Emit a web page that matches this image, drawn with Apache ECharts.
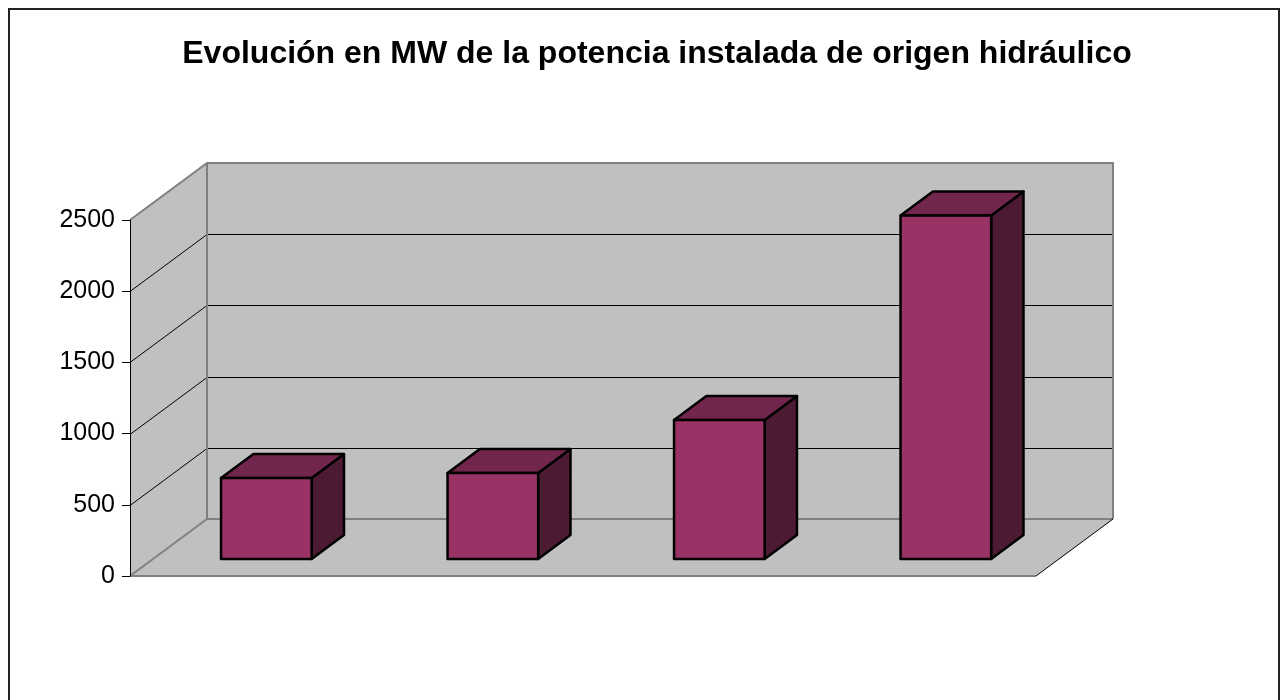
<!DOCTYPE html>
<html>
<head>
<meta charset="utf-8">
<script src="https://cdn.jsdelivr.net/npm/echarts@6/dist/echarts.min.js"></script>
<style>
  html, body { margin: 0; padding: 0; background: #fff; }
  #chart { width: 1280px; height: 700px; }
</style>
</head>
<body>
<div id="chart"></div>
<script>
// datos
var categories = ['1', '2', '3', '4'];
var potencia = [568, 604, 976, 2412];
var yTicks = [0, 500, 1000, 1500, 2000, 2500];

// profundidad de la vista 3D (px)
var DX = 77, DY = -57;
var BAR_FRONT = 0.3, BAR_BACK = 0.72;

function renderWalls(params, api) {
  var cs = params.coordSys;
  var x0 = cs.x, x1 = cs.x + cs.width;
  var yb = api.coord([0, 0])[1];
  var yt = api.coord([0, yTicks[yTicks.length - 1]])[1];
  var gray = '#808080';
  var c = [];
  var wall = { fill: '#c0c0c0', stroke: null };
  c.push({ type: 'polygon', shape: { points: [[x0, yb], [x1, yb], [x1 + DX, yb + DY], [x0 + DX, yb + DY]] }, style: wall });
  c.push({ type: 'polygon', shape: { points: [[x0, yb], [x0 + DX, yb + DY], [x0 + DX, yt + DY], [x0, yt]] }, style: wall });
  c.push({ type: 'polygon', shape: { points: [[x0 + DX, yb + DY], [x1 + DX, yb + DY], [x1 + DX, yt + DY], [x0 + DX, yt + DY]] }, style: wall });
  yTicks.forEach(function (v, i) {
    if (i === 0 || i === yTicks.length - 1) return;
    var y = Math.round(api.coord([0, v])[1]) + 0.5;
    c.push({ type: 'polyline', shape: { points: [[x0, y], [x0 + DX, y + DY], [x1 + DX, y + DY]] },
      style: { stroke: '#000', lineWidth: 1, fill: null } });
  });
  function edge(pts, color, w) {
    c.push({ type: 'polyline', shape: { points: pts }, style: { stroke: color, lineWidth: w, fill: null } });
  }
  edge([[x0, yt], [x0 + DX, yt + DY], [x1 + DX, yt + DY], [x1 + DX, yb + DY]], gray, 2);
  edge([[x0 + DX, yt + DY], [x0 + DX, yb + DY], [x1 + DX, yb + DY]], gray, 2);
  edge([[x0, yb], [x0 + DX, yb + DY]], gray, 2);
  edge([[x0, yb], [x1, yb]], gray, 2);
  edge([[x1, yb], [x1 + DX, yb + DY]], '#000', 1);
  return { type: 'group', children: c };
}

function renderBar(params, api) {
  var base = api.coord([api.value(0), 0]);
  var top = api.coord([api.value(0), api.value(1)]);
  var w = api.size([1, 0])[0] * 0.4;
  var xl = base[0] - w / 2 + DX * BAR_FRONT, xr = xl + w;
  var yb = base[1] + DY * BAR_FRONT, yt = top[1] + DY * BAR_FRONT;
  var ddx = DX * (BAR_BACK - BAR_FRONT), ddy = DY * (BAR_BACK - BAR_FRONT);
  var line = { stroke: '#000', lineWidth: 2.5, lineJoin: 'round' };
  return {
    type: 'group',
    children: [
      { type: 'polygon', shape: { points: [[xr, yb], [xr + ddx, yb + ddy], [xr + ddx, yt + ddy], [xr, yt]] },
        style: Object.assign({ fill: '#4c1a33' }, line) },
      { type: 'polygon', shape: { points: [[xl, yt], [xr, yt], [xr + ddx, yt + ddy], [xl + ddx, yt + ddy]] },
        style: Object.assign({ fill: '#73264d' }, line) },
      { type: 'rect', shape: { x: xl, y: yt, width: w, height: yb - yt },
        style: Object.assign({ fill: '#993366' }, line) }
    ]
  };
}

var chart = echarts.init(document.getElementById('chart'));
chart.setOption({
  animation: false,
  backgroundColor: '#fff',
  title: {
    text: 'Evolución en MW de la potencia instalada de origen hidráulico',
    left: 652,
    textAlign: 'center',
    top: 33,
    textStyle: { fontFamily: 'Arial, "Liberation Sans", sans-serif', fontSize: 32, fontWeight: 'bold', color: '#000' }
  },
  graphic: [{
    type: 'rect', silent: true, z: 100,
    shape: { x: 9, y: 9, width: 1270, height: 720 },
    style: { fill: null, stroke: '#222', lineWidth: 2 }
  }],
  grid: { left: 130, right: 244, top: 220, bottom: 124 },
  xAxis: {
    type: 'category',
    data: categories,
    axisLine: { show: false },
    axisTick: { show: false },
    axisLabel: { show: false },
    splitLine: { show: false }
  },
  yAxis: {
    type: 'value',
    min: 0, max: 2500, interval: 500,
    axisLine: { show: true, lineStyle: { color: '#000', width: 1 } },
    axisTick: { show: true, length: 8, lineStyle: { color: '#000' } },
    axisLabel: { fontSize: 25, color: '#000', margin: 15, fontFamily: 'Arial, "Liberation Sans", sans-serif',
      formatter: function (v) { return String(v); } },
    splitLine: { show: false },
    z: 10
  },
  series: [
    { type: 'custom', name: 'paredes', renderItem: renderWalls, data: [[0, 0]], clip: false, silent: true, z: 1 },
    { type: 'custom', name: 'MW', renderItem: renderBar, encode: { x: 0, y: 1 },
      data: potencia.map(function (v, i) { return [i, v]; }), clip: false, z: 5 }
  ]
});
</script>
</body>
</html>
